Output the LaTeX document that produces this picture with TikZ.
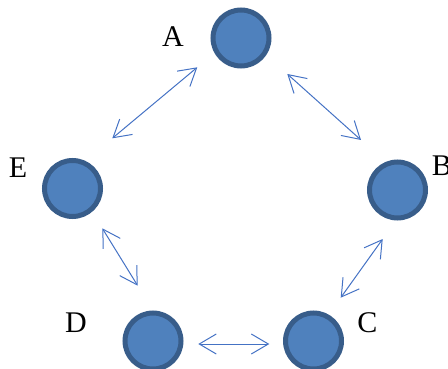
\documentclass[tikz,border=0pt]{standalone}
\usepackage{fontspec}
\setmainfont{Liberation Serif}
\usetikzlibrary{arrows.meta}
\definecolor{ballfill}{HTML}{4F81BD}
\definecolor{balledge}{HTML}{385D8A}
\definecolor{arrowcol}{HTML}{4472C4}
\begin{document}
\begin{tikzpicture}[x=1pt,y=-1pt,
  ball/.style={circle,draw=balledge,fill=ballfill,line width=5pt,minimum size=56pt,inner sep=0pt},
  lbl/.style={inner sep=0pt,font=\fontsize{30}{30}\selectfont},
  link/.style={draw=arrowcol,line width=1pt,{Straight Barb[length=17pt,width=20pt,line width=1pt]}-{Straight Barb[length=17pt,width=20pt,line width=1pt]}}]
\useasboundingbox (0,0) rectangle (448,369);
\node[ball] (A) at (241,38) {};
\node[ball] (B) at (397.5,190) {};
\node[ball] (C) at (313.5,341) {};
\node[ball] (D) at (153,341) {};
\node[ball] (E) at (72.5,188.5) {};
\node[lbl] (lA) at (173,36.5) {A};
\node[lbl] (lB) at (442,166) {B};
\node[lbl] (lC) at (367.5,323) {C};
\node[lbl] (lD) at (76,322.5) {D};
\node[lbl] (lE) at (18,167.5) {E};
\coordinate (ae1) at (197.3,67.3);
\coordinate (ae2) at (112.3,138.3);
\coordinate (ab1) at (287.3,74);
\coordinate (ab2) at (361,140);
\coordinate (bc1) at (382.7,239);
\coordinate (bc2) at (340.7,297.7);
\coordinate (ed1) at (102.3,228.3);
\coordinate (ed2) at (137.7,285.7);
\coordinate (dc1) at (198.3,344);
\coordinate (dc2) at (269.3,344);
\draw[link] (ae1) -- (ae2);
\draw[link] (ab1) -- (ab2);
\draw[link] (bc1) -- (bc2);
\draw[link] (ed1) -- (ed2);
\draw[link] (dc1) -- (dc2);
\end{tikzpicture}
\end{document}
